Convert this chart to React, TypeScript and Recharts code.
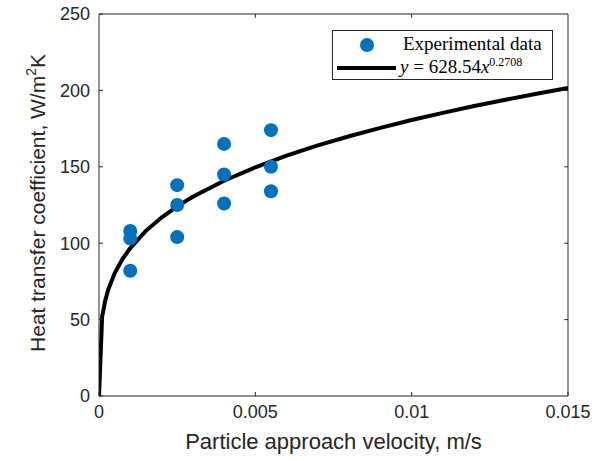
import React from 'react';
import { ComposedChart, Line, Scatter, XAxis, YAxis, ReferenceLine } from 'recharts';

// measured points
const expX = [0.001, 0.001, 0.001, 0.0025, 0.0025, 0.0025, 0.004, 0.004, 0.004, 0.0055, 0.0055, 0.0055];
const expY = [108, 103, 82, 138, 125, 104, 165, 145, 126, 174, 150, 134];

// fitted curve
const fitX = [0, 0.0001, 0.0002, 0.0003, 0.0005, 0.00075, 0.001, 0.0015, 0.002, 0.0025, 0.003, 0.004, 0.005, 0.006, 0.007, 0.008, 0.009, 0.01, 0.011, 0.012, 0.013, 0.014, 0.015];
const fitY = [0, 51.9, 62.6, 69.9, 80.3, 89.6, 96.8, 108.1, 116.8, 124.1, 130.4, 140.9, 149.7, 157.3, 164.0, 170.0, 175.5, 180.6, 185.3, 189.8, 193.9, 197.8, 201.6];

const xTicks = [0, 0.005, 0.01, 0.015];
const yTicks = [0, 50, 100, 150, 200, 250];

const expData = expX.map((x, i) => ({ x, y: expY[i] }));
const fitData = fitX.map((x, i) => ({ x, y: fitY[i] }));

const xMax = 0.015;
const yMax = 250;

const axisColor = '#262626';
const sans = 'Liberation Sans, Arial, sans-serif';
const tickFont = { fontSize: 18, fill: axisColor, fontFamily: sans };

const LegendBox = () => (
  <div
    style={{
      position: 'absolute',
      left: 332,
      top: 30,
      width: 219,
      height: 48,
      border: '1px solid #262626',
      background: '#fff',
      fontFamily: '"Liberation Serif", "Times New Roman", serif',
      fontSize: 19,
      lineHeight: '20px',
      color: '#000',
    }}
  >
    <svg width={70} height={48} style={{ position: 'absolute', left: 0, top: 0 }}>
      <circle cx={34} cy={14} r={7} fill="#0072BD" />
      <line x1={4} x2={63} y1={37} y2={37} stroke="#000" strokeWidth={4} />
    </svg>
    <div style={{ position: 'absolute', left: 70, top: 3, whiteSpace: 'nowrap' }}>Experimental data</div>
    <div style={{ position: 'absolute', left: 67, top: 26, whiteSpace: 'nowrap' }}>
      <i>y</i> = 628.54<i>x</i>
      <sup style={{ fontSize: 12, lineHeight: 0 }}>0.2708</sup>
    </div>
  </div>
);

const YLabel = () => (
  <text
    x={45}
    y={203}
    transform="rotate(-90, 45, 203)"
    textAnchor="middle"
    fill={axisColor}
    fontSize={21}
    fontFamily={sans}
  >
    Heat transfer coefficient, W/m
    <tspan fontSize={14} dy={-9}>2</tspan>
    <tspan dy={9}>K</tspan>
  </text>
);

export default function App() {
  return (
    <div style={{ position: 'absolute', left: 0, top: 0, width: 599, height: 461, background: '#fff' }}>
      <ComposedChart width={599} height={461} margin={{ top: 14, right: 31, bottom: 0, left: 0 }}>
        <XAxis
          dataKey="x"
          type="number"
          domain={[0, xMax]}
          ticks={xTicks}
          height={65}
          stroke={axisColor}
          tickSize={-4}
          tickMargin={13}
          tick={tickFont}
          allowDataOverflow
          label={{
            value: 'Particle approach velocity, m/s',
            position: 'insideBottom',
            offset: 12,
            fill: axisColor,
            fontSize: 22,
            fontFamily: sans,
          }}
        />
        <YAxis
          type="number"
          domain={[0, yMax]}
          ticks={yTicks}
          width={99}
          stroke={axisColor}
          tickSize={-4}
          tickMargin={13}
          tick={tickFont}
          allowDataOverflow
          label={<YLabel />}
        />
        {/* box: top and right edges with small inward ticks */}
        <ReferenceLine y={yMax} stroke={axisColor} ifOverflow="visible" />
        <ReferenceLine x={xMax} stroke={axisColor} ifOverflow="visible" />
        {xTicks.slice(1, -1).map((t) => (
          <ReferenceLine
            key={'tx' + t}
            segment={[{ x: t, y: yMax }, { x: t, y: yMax - 2.5 }]}
            stroke={axisColor}
          />
        ))}
        {yTicks.slice(1, -1).map((t) => (
          <ReferenceLine
            key={'ty' + t}
            segment={[{ x: xMax, y: t }, { x: xMax - 0.00012, y: t }]}
            stroke={axisColor}
          />
        ))}
        <Line
          data={fitData}
          dataKey="y"
          stroke="#000"
          strokeWidth={4}
          dot={false}
          type="linear"
          isAnimationActive={false}
        />
        <Scatter
          data={expData}
          dataKey="y"
          fill="#0072BD"
          shape={(p: any) => <circle cx={p.cx} cy={p.cy} r={7} fill="#0072BD" />}
          isAnimationActive={false}
        />
      </ComposedChart>
      <LegendBox />
    </div>
  );
}
